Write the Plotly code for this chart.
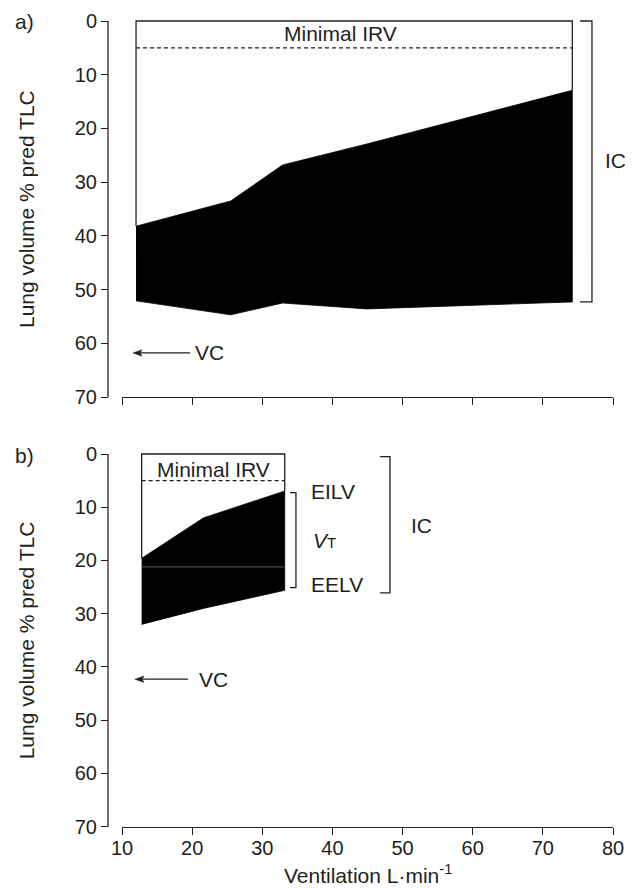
import plotly.graph_objects as go

# page has an 8px body margin, so the figure is drawn 8px smaller and
# all reference pixel positions are shifted by that offset
OFF = 8
W, H = 633 - OFF, 888 - OFF

# ---------------- data ----------------
x_ticks = [10, 20, 30, 40, 50, 60, 70, 80]
x_ticktext = ["10", "20", "30", "40", "50", "60", "70", "80"]
y_ticks = [0, 10, 20, 30, 40, 50, 60, 70]
y_ticktext = ["0", "10", "20", "30", "40", "50", "60", "70"]

# panel a)
vent_a = [12.0, 25.5, 32.9, 44.9, 74.2]
eilv_a = [38.2, 33.5, 26.8, 22.9, 12.9]
eelv_a = [52.1, 54.7, 52.5, 53.6, 52.3]
min_irv_a = 5.0
vc_a = 61.8

# panel b)
vent_b = [12.8, 21.6, 33.2]
eilv_b = [19.6, 12.0, 6.95]
eelv_b = [32.0, 29.0, 25.6]
rest_line_b = 21.2
min_irv_b = 5.0
vc_b = 42.3

tlc = 0.0

# ---------------- layout helpers ----------------
INK = "#231f20"
FONT = "Liberation Sans, Arial, sans-serif"
FS = 20      # tick labels
FT = 21      # other texts


def px(p):
    return (p - OFF) / W


def py(p):
    return 1 - (p - OFF) / H


X_L, X_R = 122, 613
A_TOP, A_BOT = 21, 397
B_TOP, B_BOT = 454, 826.7
Y_AX_X = 108
YPAD = 0.4  # range padding above 0 so lines at 0 are not clipped


def ydom(top, bot):
    ppu = (bot - top) / 70.0
    t = top - YPAD * ppu
    return [py(bot), py(t)]


fig = go.Figure()


def panel(xa, ya, vent, eilv, eelv, irv):
    fig.add_trace(go.Scatter(
        x=vent + vent[::-1], y=eilv + eelv[::-1], xaxis=xa, yaxis=ya,
        mode="lines", fill="toself", fillcolor="black",
        line=dict(color="black", width=0.8), hoverinfo="skip", showlegend=False))
    fig.add_trace(go.Scatter(
        x=[vent[0], vent[0], vent[-1], vent[-1]],
        y=[eilv[0], tlc, tlc, eilv[-1]], xaxis=xa, yaxis=ya,
        mode="lines", line=dict(color=INK, width=1.3),
        hoverinfo="skip", showlegend=False))
    fig.add_trace(go.Scatter(
        x=[vent[0], vent[-1]], y=[irv, irv], xaxis=xa, yaxis=ya,
        mode="lines", line=dict(color=INK, width=1.2, dash="4px,3px"),
        hoverinfo="skip", showlegend=False))


panel("x", "y", vent_a, eilv_a, eelv_a, min_irv_a)
panel("x2", "y2", vent_b, eilv_b, eelv_b, min_irv_b)

fig.add_trace(go.Scatter(
    x=[vent_b[0], vent_b[-1]], y=[rest_line_b, rest_line_b], xaxis="x2", yaxis="y2",
    mode="lines", line=dict(color="#4a4a4a", width=1.2),
    hoverinfo="skip", showlegend=False))

axis_common = dict(showgrid=False, zeroline=False, ticks="outside", ticklen=7,
                   tickwidth=1.3, tickcolor=INK, linecolor=INK, linewidth=1.3,
                   automargin=False,
                   tickfont=dict(family=FONT, size=FS, color=INK))

fig.update_layout(
    width=W, height=H, autosize=False,
    margin=dict(l=0, r=0, t=0, b=0, pad=0, autoexpand=False),
    paper_bgcolor="white", plot_bgcolor="white",
    showlegend=False,
    xaxis=dict(domain=[px(X_L), px(X_R)], range=[10, 80], anchor="y",
               tickvals=x_ticks, ticktext=x_ticktext, showticklabels=False,
               showline=True, **axis_common),
    yaxis=dict(domain=ydom(A_TOP, A_BOT), range=[70, -YPAD], anchor="free",
               position=px(Y_AX_X), tickvals=y_ticks, ticktext=y_ticktext,
               showline=False, **axis_common),
    xaxis2=dict(domain=[px(X_L), px(X_R)], range=[10, 80], anchor="y2",
                tickvals=x_ticks, ticktext=x_ticktext, showticklabels=True,
                showline=True, ticklabelstandoff=-4, **axis_common),
    yaxis2=dict(domain=ydom(B_TOP, B_BOT), range=[70, -YPAD], anchor="free",
                position=px(Y_AX_X), tickvals=y_ticks, ticktext=y_ticktext,
                showline=False, **axis_common),
)

shapes = []
for top, bot in [(A_TOP, A_BOT), (B_TOP, B_BOT)]:
    shapes.append(dict(type="line", xref="paper", yref="paper",
                       x0=px(Y_AX_X), x1=px(Y_AX_X), y0=py(top), y1=py(bot),
                       line=dict(color=INK, width=1.3)))


def bracket(xa, ya, x_in, x_out, y0, y1):
    return dict(type="path", xref=xa, yref=ya,
                path=f"M {x_in},{y0} L {x_out},{y0} L {x_out},{y1} L {x_in},{y1}",
                line=dict(color=INK, width=1.3))


shapes.append(bracket("x", "y", 75.3, 77.0, tlc, eelv_a[-1]))
shapes.append(bracket("x2", "y2", 33.95, 34.8, 7.27, 25.1))
shapes.append(bracket("x2", "y2", 46.8, 48.2, 0.5, 26.1))

# VC arrows: shaft line + filled triangular head
arrows = [("x", "y", 11.57, 19.7, vc_a), ("x2", "y2", 11.85, 19.4, vc_b)]
HEAD_L = 9 / 7.014   # ~9 px long in x units
HEAD_W = 3.2 / 5.35  # ~3.2 px half-height in y units
for xa, ya, tip, tail, yv in arrows:
    shapes.append(dict(type="line", xref=xa, yref=ya, x0=tip + HEAD_L * 0.8, x1=tail,
                       y0=yv, y1=yv, line=dict(color=INK, width=1.2)))
    shapes.append(dict(type="path", xref=xa, yref=ya,
                       path=(f"M {tip},{yv} L {tip + HEAD_L},{yv - HEAD_W} "
                             f"L {tip + HEAD_L * 0.8},{yv} L {tip + HEAD_L},{yv + HEAD_W} Z"),
                       fillcolor=INK, line=dict(color=INK, width=0.5)))
fig.update_layout(shapes=shapes)

ann = []
tf = dict(family=FONT, size=FT, color=INK)


def txt(xa, ya, x, y, text, xanchor="center"):
    ann.append(dict(xref=xa, yref=ya, x=x, y=y, text=text, showarrow=False,
                    xanchor=xanchor, yanchor="middle", font=tf))


txt("x", "y", 41.2, 2.3, "Minimal IRV")
txt("x2", "y2", 23.07, 2.9, "Minimal IRV")
txt("x", "y", 78.6, 25.9, "IC", "left")
txt("x2", "y2", 35.1, -0.75, "TLC", "left")
txt("x2", "y2", 36.7, 7.1, "EILV", "left")
txt("x2", "y2", 37.0, 16.2, "<i>V</i><span style='font-size:15px'>T</span>", "left")
txt("x2", "y2", 36.7, 24.6, "EELV", "left")
txt("x2", "y2", 50.9, 13.5, "IC", "left")
txt("x", "y", 20.1, vc_a, "VC", "left")
txt("x2", "y2", 20.7, vc_b, "VC", "left")

ann.append(dict(xref="paper", yref="paper", x=px(24), y=py(22), text="a)",
                showarrow=False, xanchor="center", yanchor="middle", font=tf))
ann.append(dict(xref="paper", yref="paper", x=px(24), y=py(455), text="b)",
                showarrow=False, xanchor="center", yanchor="middle", font=tf))

for top, bot in [(A_TOP, A_BOT), (B_TOP, B_BOT)]:
    ann.append(dict(xref="paper", yref="paper", x=px(26), y=py((top + bot) / 2),
                    text="Lung volume % pred TLC", textangle=-90, showarrow=False,
                    xanchor="center", yanchor="middle", font=tf))

ann.append(dict(xref="paper", yref="paper", x=px((X_L + X_R) / 2), y=py(874),
                text="Ventilation L·min<sup>-1</sup>", showarrow=False,
                xanchor="center", yanchor="middle", font=tf))

fig.update_layout(annotations=ann)

fig.write_html("out.html")
